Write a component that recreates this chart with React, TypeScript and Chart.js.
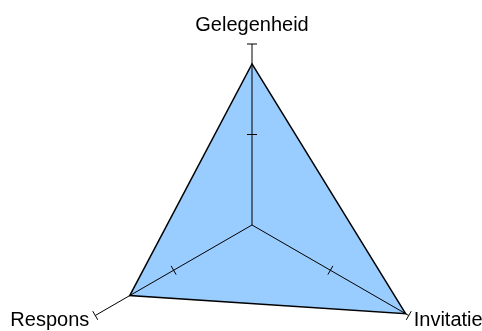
import React, { useEffect, useRef } from "react";
import { Chart, registerables } from "chart.js";

Chart.register(...registerables);

const categories = ["Gelegenheid", "Invitatie", "Respons"];
const seriesValues = [8.9, 9.8, 7.8];
const tickValues = [5, 10];
const scaleMax = 10;

const labelPlugin = {
  id: "customAxisDecor",
  afterDraw(chart: any) {
    const scale = chart.scales.r;
    const ctx = chart.ctx;
    const cx = scale.xCenter;
    const cy = scale.yCenter;
    ctx.save();
    ctx.strokeStyle = "#000";
    ctx.lineWidth = 1;
    for (let i = 0; i < categories.length; i++) {
      for (const v of tickValues) {
        const p = scale.getPointPositionForValue(i, v);
        const dx = p.x - cx;
        const dy = p.y - cy;
        const len = Math.sqrt(dx * dx + dy * dy) || 1;
        const nx = -dy / len;
        const ny = dx / len;
        const h = 5;
        ctx.beginPath();
        ctx.moveTo(p.x - nx * h, p.y - ny * h);
        ctx.lineTo(p.x + nx * h, p.y + ny * h);
        ctx.stroke();
      }
    }
    ctx.fillStyle = "#000";
    ctx.font = "20px 'Liberation Sans', Arial, sans-serif";
    ctx.textBaseline = "alphabetic";
    for (let i = 0; i < categories.length; i++) {
      const p = scale.getPointPositionForValue(i, scaleMax);
      const dx = p.x - cx;
      if (Math.abs(dx) < 1) {
        ctx.textAlign = "center";
        ctx.fillText(categories[i], p.x, p.y - 13);
      } else if (dx > 0) {
        ctx.textAlign = "left";
        ctx.fillText(categories[i], p.x + 5, p.y + 10.5);
      } else {
        ctx.textAlign = "right";
        ctx.fillText(categories[i], p.x - 6, p.y + 10.5);
      }
    }
    ctx.restore();
  },
};

export default function App() {
  const canvasRef = useRef<HTMLCanvasElement | null>(null);

  useEffect(() => {
    document.body.style.margin = "0";
    document.documentElement.style.overflow = "hidden";
    document.body.style.overflow = "hidden";
    const canvas = canvasRef.current;
    if (!canvas) return;
    const chart = new Chart(canvas, {
      type: "radar",
      data: {
        labels: categories,
        datasets: [
          {
            data: seriesValues,
            fill: true,
            backgroundColor: "rgb(153,204,255)",
            borderColor: "#000",
            borderWidth: 1.5,
            pointRadius: 0,
            pointHoverRadius: 0,
          },
        ],
      },
      options: {
        responsive: false,
        animation: false,
        devicePixelRatio: 1,
        layout: { padding: { left: 71, top: 44, right: 49, bottom: 0 } },
        plugins: {
          legend: { display: false },
          tooltip: { enabled: false },
          title: { display: false },
        },
        elements: { line: { tension: 0 } },
        scales: {
          r: {
            min: 0,
            max: scaleMax,
            ticks: { display: false, stepSize: 5 },
            grid: { display: false, z: 1 },
            angleLines: { display: true, color: "#000", lineWidth: 1 },
            pointLabels: { display: false },
          },
        },
      },
      plugins: [labelPlugin],
    });
    return () => chart.destroy();
  }, []);

  return (
    <div style={{ width: 482, height: 331, overflow: "hidden", background: "#fff" }}>
      <canvas ref={canvasRef} width={482} height={406} style={{ display: "block" }} />
    </div>
  );
}
